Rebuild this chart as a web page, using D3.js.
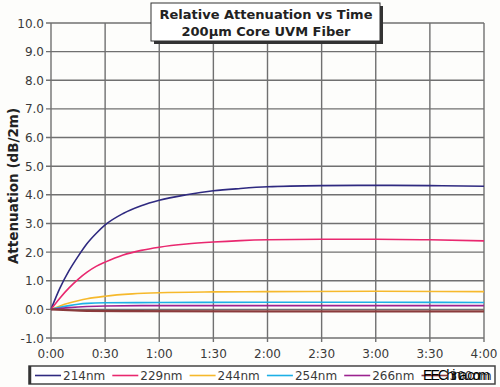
<!DOCTYPE html>
<html>
<head>
<meta charset="utf-8">
<script src="https://cdn.jsdelivr.net/npm/d3@7"></script>
<style>
  body { margin: 0; background: #fdfdfb; }
  svg { display: block; font-family: "DejaVu Sans", sans-serif; }
</style>
</head>
<body>
<div id="chart"></div>
<script>
// time in minutes, attenuation in dB/2m
var series = ["214nm", "229nm", "244nm", "254nm", "266nm", "300nm"];
var colors = ["#2f2a80", "#e9286f", "#f6b92c", "#1db0e6", "#9c2390", "#8a3b3b"];

var t214 = [0, 5, 10, 15, 20, 25, 30, 40, 50, 60, 75, 90, 105, 120, 150, 180, 210, 240];
var v214 = [0, 0.75, 1.35, 1.85, 2.3, 2.65, 2.95, 3.35, 3.62, 3.81, 4.0, 4.14, 4.22, 4.28, 4.32, 4.33, 4.32, 4.30];
var t229 = [0, 5, 10, 15, 20, 25, 30, 40, 50, 60, 75, 90, 105, 120, 150, 180, 210, 240];
var v229 = [0, 0.4, 0.75, 1.05, 1.3, 1.5, 1.65, 1.9, 2.06, 2.17, 2.28, 2.35, 2.4, 2.43, 2.45, 2.45, 2.43, 2.39];
var t244 = [0, 5, 10, 15, 20, 30, 45, 60, 90, 120, 180, 240];
var v244 = [0, 0.12, 0.22, 0.3, 0.37, 0.46, 0.54, 0.58, 0.61, 0.62, 0.63, 0.62];
var t254 = [0, 5, 10, 15, 20, 30, 60, 120, 180, 240];
var v254 = [0, 0.07, 0.13, 0.18, 0.21, 0.23, 0.24, 0.25, 0.25, 0.24];
var t266 = [0, 10, 20, 30, 60, 120, 240];
var v266 = [0, 0.06, 0.1, 0.12, 0.13, 0.13, 0.13];
var t300 = [0, 10, 20, 40, 120, 240];
var v300 = [0, -0.03, -0.05, -0.06, -0.07, -0.07];

var times = [t214, t229, t244, t254, t266, t300];
var values = [v214, v229, v244, v254, v266, v300];

var xTicks = [0, 30, 60, 90, 120, 150, 180, 210, 240];
var xTickLabels = ["0:00", "0:30", "1:00", "1:30", "2:00", "2:30", "3:00", "3:30", "4:00"];
var yTicks = [-1, 0, 1, 2, 3, 4, 5, 6, 7, 8, 9, 10];

var width = 500, height = 387;
var svg = d3.select("#chart").append("svg")
    .attr("width", width)
    .attr("height", height);

var x = d3.scaleLinear().domain([0, 240]).range([51, 484]);
var y = d3.scaleLinear().domain([-1, 10]).range([338, 23]);

// grid
svg.append("g").selectAll("line")
    .data(yTicks)
    .enter().append("line")
    .attr("x1", 46).attr("x2", x(240))
    .attr("y1", function(d) { return y(d); })
    .attr("y2", function(d) { return y(d); })
    .attr("stroke", "#707070")
    .attr("stroke-width", 1.4);

svg.append("g").selectAll("line")
    .data(xTicks)
    .enter().append("line")
    .attr("x1", function(d) { return x(d); })
    .attr("x2", function(d) { return x(d); })
    .attr("y1", y(10)).attr("y2", y(-1) + 4)
    .attr("stroke", "#707070")
    .attr("stroke-width", 1.4);

// tick labels
svg.append("g").selectAll("text")
    .data(yTicks)
    .enter().append("text")
    .attr("x", 44)
    .attr("y", function(d) { return y(d) + 4.5; })
    .attr("text-anchor", "end")
    .attr("font-size", 12)
    .attr("fill", "#3a3a3a")
    .text(function(d) { return d.toFixed(1); });

svg.append("g").selectAll("text")
    .data(xTicks)
    .enter().append("text")
    .attr("x", function(d) { return x(d); })
    .attr("y", 358)
    .attr("text-anchor", "middle")
    .attr("font-size", 12)
    .attr("fill", "#3a3a3a")
    .text(function(d, i) { return xTickLabels[i]; });

// axis title
svg.append("text")
    .attr("transform", "translate(18,186) rotate(-90)")
    .attr("text-anchor", "middle")
    .attr("font-size", 13.5)
    .attr("font-weight", "bold")
    .attr("fill", "#222")
    .text("Attenuation (dB/2m)");

// curves
var line = d3.line()
    .x(function(d) { return x(d[0]); })
    .y(function(d) { return y(d[1]); })
    .curve(d3.curveMonotoneX);

series.forEach(function(s, i) {
  var pts = times[i].map(function(t, j) { return [t, values[i][j]]; });
  svg.append("path")
      .datum(pts)
      .attr("d", line)
      .attr("fill", "none")
      .attr("stroke", colors[i])
      .attr("stroke-width", i == 5 ? 2.2 : 1.6);
});

// title box
svg.append("rect")
    .attr("x", 154).attr("y", 6)
    .attr("width", 229).attr("height", 38)
    .attr("fill", "#333");
svg.append("rect")
    .attr("x", 151).attr("y", 3)
    .attr("width", 229).attr("height", 38)
    .attr("fill", "#fff")
    .attr("stroke", "#333")
    .attr("stroke-width", 1);
svg.append("text")
    .attr("x", 266).attr("y", 19)
    .attr("text-anchor", "middle")
    .attr("font-size", 13)
    .attr("font-weight", "bold")
    .attr("fill", "#222")
    .text("Relative Attenuation vs Time");
svg.append("text")
    .attr("x", 266).attr("y", 36)
    .attr("text-anchor", "middle")
    .attr("font-size", 13)
    .attr("font-weight", "bold")
    .attr("fill", "#222")
    .text("200µm Core UVM Fiber");

// legend
svg.append("rect")
    .attr("x", 29).attr("y", 366)
    .attr("width", 466).attr("height", 18)
    .attr("fill", "#fff")
    .attr("stroke", "#444")
    .attr("stroke-width", 1.5);
svg.append("line")
    .attr("x1", 30).attr("x2", 30).attr("y1", 366).attr("y2", 384)
    .attr("stroke", "#333").attr("stroke-width", 2.5);

var leg = svg.append("g").selectAll("g")
    .data(series)
    .enter().append("g")
    .attr("transform", function(d, i) { return "translate(" + (35 + i * 77.3) + ",0)"; });
leg.append("line")
    .attr("x1", 0).attr("x2", 26)
    .attr("y1", 375.5).attr("y2", 375.5)
    .attr("stroke", function(d, i) { return colors[i]; })
    .attr("stroke-width", 1.6);
leg.append("text")
    .attr("x", 28).attr("y", 380)
    .attr("font-size", 12)
    .attr("fill", "#3a3a3a")
    .text(function(d) { return d; });

// watermark
svg.append("text")
    .attr("x", 423).attr("y", 380)
    .attr("font-family", "Liberation Sans Narrow, Liberation Sans, sans-serif")
    .attr("font-size", 14)
    .attr("textLength", 67)
    .attr("fill", "#000")
    .text("EEChina.com");
</script>
</body>
</html>
